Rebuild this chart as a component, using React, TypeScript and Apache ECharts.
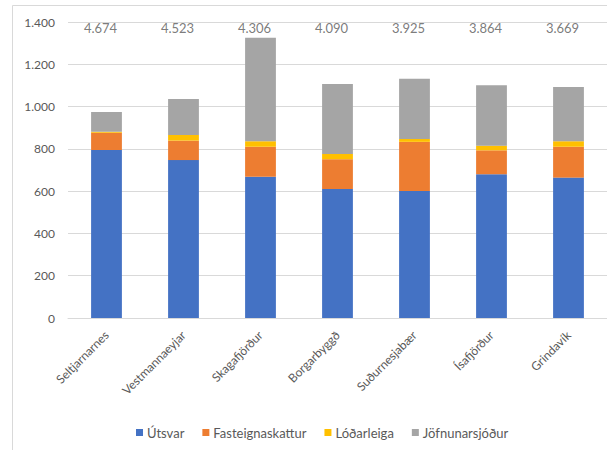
import React, { useEffect, useRef } from "react";
import * as echarts from "echarts";

const categories = ["Seltjarnarnes", "Vestmannaeyjar", "Skagafjörður", "Borgarbyggð", "Suðurnesjabær", "Ísafjörður", "Grindavík"];
const utsvar = [795, 747, 668, 610, 601, 680, 664];
const fasteignaskattur = [81, 92, 142, 141, 232, 113, 146];
const lodarleiga = [5, 27, 26, 25, 14, 22, 26];
const jofnunarsjodur = [93, 170, 489, 331, 285, 286, 257];
const topLabels = ["4.674", "4.523", "4.306", "4.090", "3.925", "3.864", "3.669"];
const labelLevel = 1372;
const seriesNames = ["Útsvar", "Fasteignaskattur", "Lóðarleiga", "Jöfnunarsjóður"];
const colors = ["#4472C4", "#ED7D31", "#FFC000", "#A5A5A5"];

const FONT = "Lato, 'Noto Sans', sans-serif";

export default function App() {
  const ref = useRef<HTMLDivElement>(null);
  useEffect(() => {
    if (!ref.current) return;
    const chart = echarts.init(ref.current, null, { renderer: "svg" });
    const fmt = (v: number) => {
      const s = String(Math.round(v));
      return s.replace(/\B(?=(\d{3})+(?!\d))/g, ".");
    };
    const values = [utsvar, fasteignaskattur, lodarleiga, jofnunarsjodur];
    chart.setOption({
      animation: false,
      textStyle: { fontFamily: FONT },
      graphic: [
        {
          type: "rect",
          shape: { x: 12.5, y: 5.5, width: 700, height: 500 },
          style: { fill: "none", stroke: "#D9D9D9", lineWidth: 1 },
          silent: true,
          z: -1,
        },
      ],
      grid: { left: 68, right: -4, top: 22, bottom: 132, containLabel: false },
      legend: {
        data: seriesNames,
        left: 131,
        top: 421,
        itemWidth: 7,
        itemHeight: 7,
        itemGap: 18,
        icon: "rect",
        textStyle: { color: "#595959", fontSize: 13, fontFamily: FONT, padding: [0, 0, 0, -1] },
      },
      xAxis: {
        type: "category",
        data: categories,
        axisLine: { show: true, lineStyle: { color: "#D9D9D9" } },
        axisTick: { show: false },
        axisLabel: { rotate: 45, color: "#595959", fontSize: 12, fontFamily: FONT, margin: 15, interval: 0 },
      },
      yAxis: {
        type: "value",
        min: 0,
        max: 1400,
        interval: 200,
        axisLine: { show: false },
        axisTick: { show: false },
        splitLine: { lineStyle: { color: "#D9D9D9", width: 1 } },
        axisLabel: { color: "#595959", fontSize: 12, fontFamily: FONT, margin: 13, formatter: fmt },
      },
      series: [
        ...seriesNames.map((name, i) => ({
          name,
          type: "bar",
          stack: "total",
          barWidth: "40%",
          itemStyle: { color: colors[i] },
          data: values[i],
        })),
        {
          name: "labels",
          type: "scatter",
          symbolSize: 0,
          data: topLabels.map(() => labelLevel),
          label: {
            show: true,
            position: "inside",
            offset: [-6, 0],
            color: "#595959",
            fontSize: 13,
            fontFamily: FONT,
            formatter: (p: any) => topLabels[p.dataIndex],
          },
          silent: true,
        },
      ],
    });
    return () => chart.dispose();
  }, []);
  return (
    <div
      ref={ref}
      style={{ position: "absolute", left: 0, top: 0, width: 607, height: 450, background: "#fff" }}
    />
  );
}
